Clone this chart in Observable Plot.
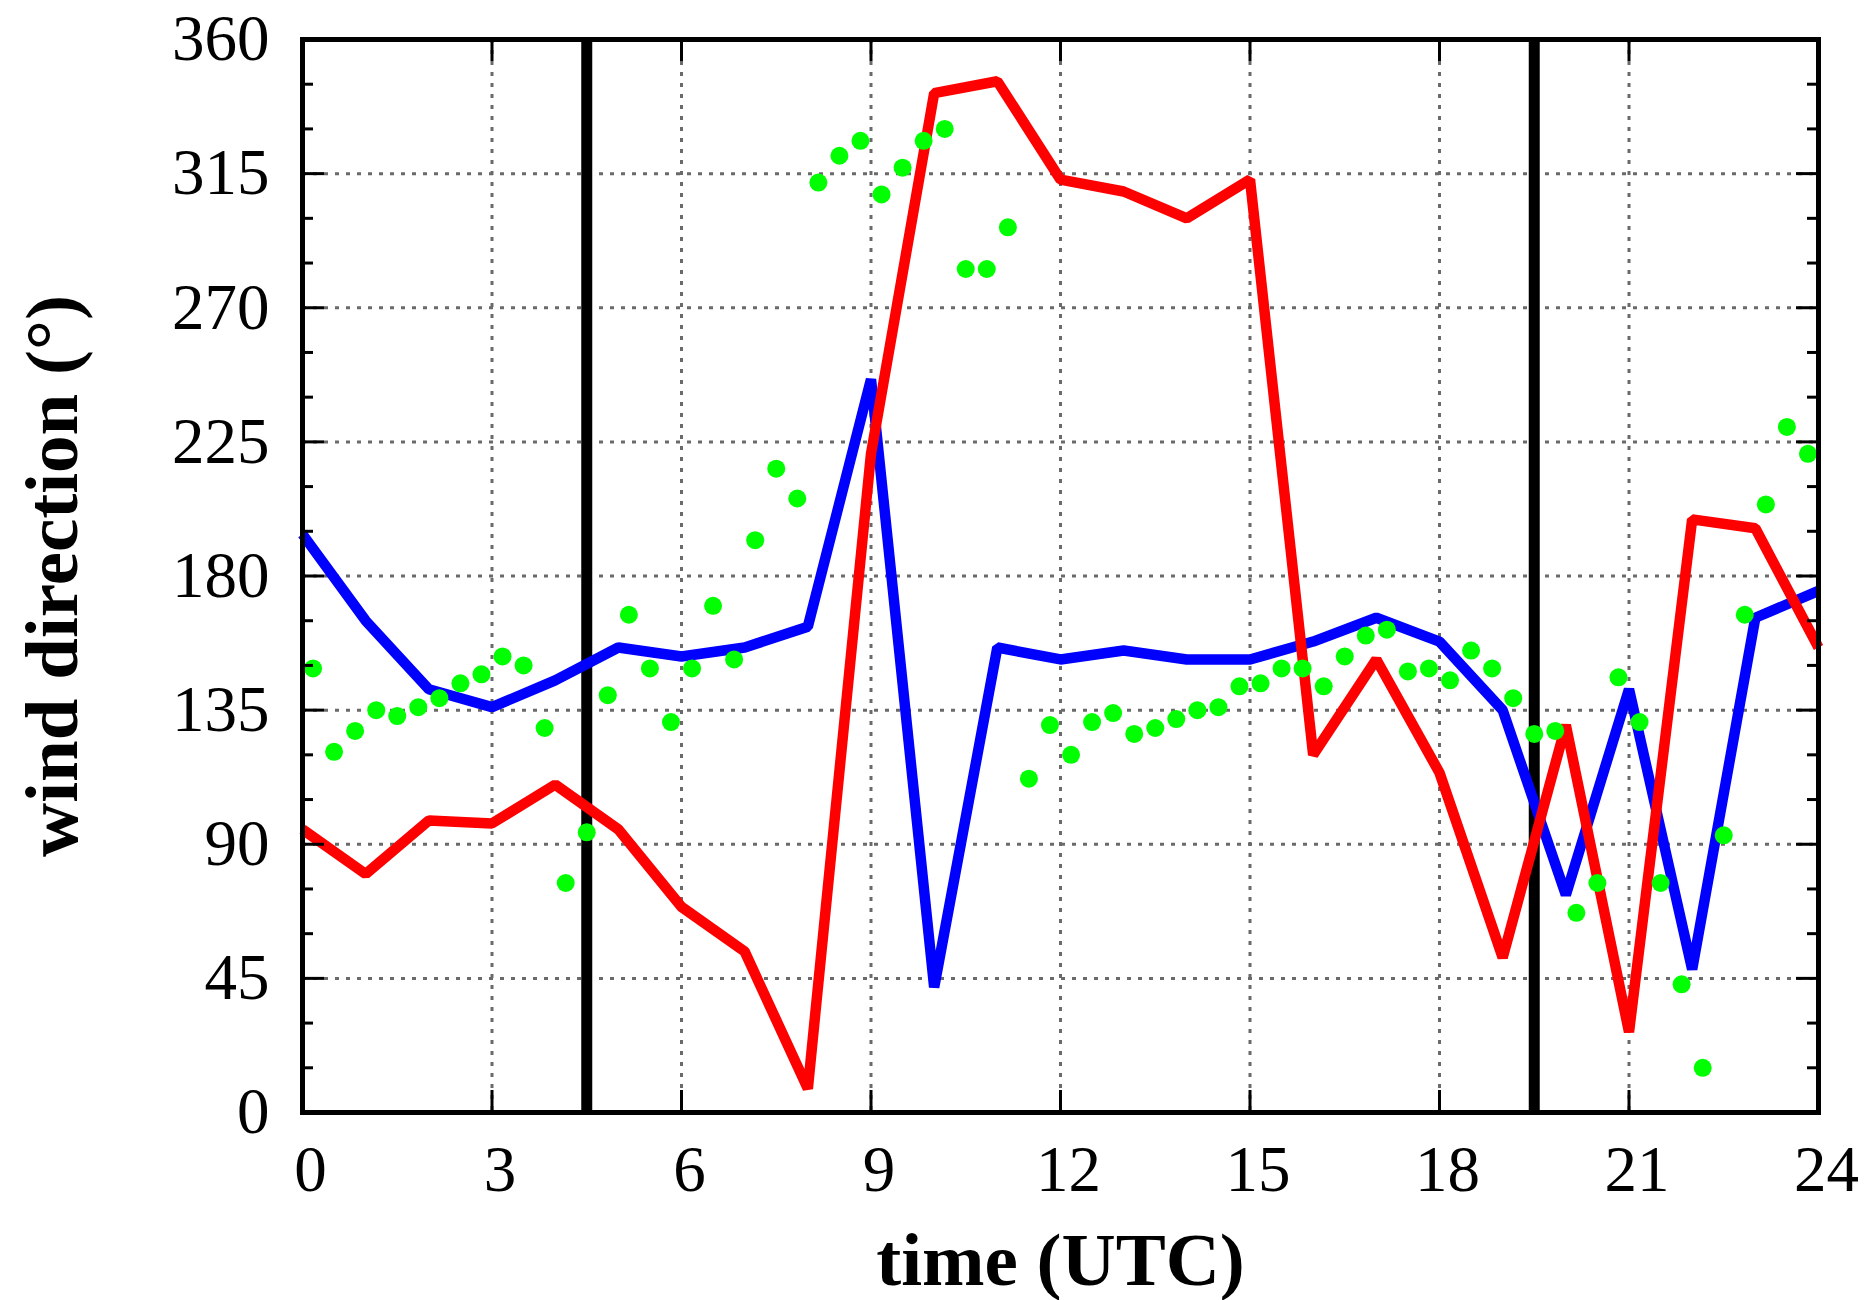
<!DOCTYPE html>
<html>
<head>
<meta charset="utf-8">
<script src="https://cdn.jsdelivr.net/npm/d3@7"></script>
<script src="https://cdn.jsdelivr.net/npm/@observablehq/plot@0.6"></script>
<style>
  html, body { margin: 0; padding: 0; background: #fff; }
  #chart svg { display: block; }
</style>
</head>
<body>
<div id="chart"></div>
<script>
// ---- data ----
const hours = [0,1,2,3,4,5,6,7,8,9,10,11,12,13,14,15,16,17,18,19,20,21,22,23,24];
const blueDir = [194,165,142,136,145,156,153,156,163,246,42,156,152,155,152,152,158,166,158,135,73,142,48,166,175];
const redDir  = [95,80,98,97,110,95,69,54,8,221,342,346,313,309,300,313,120,152,114,52,130,27,199,196,156];

const greenTimes = [0.167,0.5,0.833,1.167,1.5,1.833,2.167,2.5,2.833,3.167,3.5,3.833,
  4.167,4.5,4.833,5.167,5.5,5.833,6.167,6.5,6.833,7.167,7.5,7.833,
  8.167,8.5,8.833,9.167,9.5,9.833,10.167,10.5,10.833,11.167,11.5,11.833,
  12.167,12.5,12.833,13.167,13.5,13.833,14.167,14.5,14.833,15.167,15.5,15.833,
  16.167,16.5,16.833,17.167,17.5,17.833,18.167,18.5,18.833,19.167,19.5,19.833,
  20.167,20.5,20.833,21.167,21.5,21.833,22.167,22.5,22.833,23.167,23.5,23.833];
const greenDir = [149,121,128,135,133,136,139,144,147,153,150,129,
  77,94,140,167,149,131,149,170,152,192,216,206,
  312,321,326,308,317,326,330,283,283,297,112,130,
  120,131,134,127,129,132,135,136,143,144,149,149,
  143,153,160,162,148,149,145,155,149,139,127,128,
  67,77,146,131,77,43,15,93,167,204,230,221];

const separatorTimes = [4.5, 19.5];
const xTickLabels = [0,3,6,9,12,15,18,21,24];
const yTickLabels = [0,45,90,135,180,225,270,315,360];
const xGridTicks = [3,6,9,12,15,18,21];
const yGridTicks = [45,90,135,180,225,270,315];
const yMinorTicks = [15,30,60,75,105,120,150,165,195,210,240,255,285,300,330,345];
const xTitle = "time (UTC)";
const yTitle = "wind direction (°)";

// ---- tables ----
const blue = hours.map((h, i) => ({t: h, v: blueDir[i]}));
const red = hours.map((h, i) => ({t: h, v: redDir[i]}));
const green = greenTimes.map((t, i) => ({t, v: greenDir[i]}));

const W = 1864, H = 1300;
const mL = 302, mR = 46, mT = 39, mB = 188;
const innerW = W - mL - mR, innerH = H - mT - mB;
const serif = "Liberation Serif, Times New Roman, serif";
const gridStyle = {stroke: "#6a6a6a", strokeWidth: 3, strokeDasharray: "4,7", strokeOpacity: 1};

const chart = Plot.plot({
  width: W, height: H,
  marginLeft: mL, marginRight: mR, marginTop: mT, marginBottom: mB,
  style: {fontFamily: serif, fontSize: "65px", background: "#fff", color: "#000"},
  x: {domain: [0, 24], label: null},
  y: {domain: [0, 360], label: null},
  marks: [
    Plot.ruleX(xGridTicks, {x: d => d, ...gridStyle}),
    Plot.ruleY(yGridTicks, {y: d => d, ...gridStyle}),
    Plot.ruleX(separatorTimes, {x: d => d, stroke: "#000", strokeWidth: 11}),
    Plot.line(blue, {x: "t", y: "v", stroke: "#0000ff", strokeWidth: 10.5, strokeLinejoin: "miter", strokeLinecap: "butt"}),
    Plot.line(red, {x: "t", y: "v", stroke: "#ff0000", strokeWidth: 10.5, strokeLinejoin: "miter", strokeLinecap: "butt"}),
    Plot.dot(green, {x: "t", y: "v", r: 9, fill: "#00ff00", stroke: null}),
    // inward tick marks
    Plot.tickY(yGridTicks, {y: d => d, insetRight: innerW - 22, stroke: "#000", strokeWidth: 3}),
    Plot.tickY(yGridTicks, {y: d => d, insetLeft: innerW - 22, stroke: "#000", strokeWidth: 3}),
    Plot.tickY(yMinorTicks, {y: d => d, insetRight: innerW - 11, stroke: "#000", strokeWidth: 3}),
    Plot.tickY(yMinorTicks, {y: d => d, insetLeft: innerW - 11, stroke: "#000", strokeWidth: 3}),
    Plot.tickX(xGridTicks, {x: d => d, insetBottom: innerH - 22, stroke: "#000", strokeWidth: 3}),
    Plot.tickX(xGridTicks, {x: d => d, insetTop: innerH - 22, stroke: "#000", strokeWidth: 3}),
    Plot.frame({stroke: "#000", strokeWidth: 5}),
    Plot.axisX(xTickLabels, {anchor: "bottom", tickSize: 0, tickPadding: 32, dx: 8, fontSize: 65, fontFamily: serif, label: null, tickFormat: d => String(d)}),
    Plot.axisY(yTickLabels, {anchor: "left", tickSize: 0, tickPadding: 33, fontSize: 65, fontFamily: serif, label: null, tickFormat: d => String(d)}),
    Plot.text([xTitle], {text: d => d, frameAnchor: "bottom", dy: 172, lineAnchor: "bottom", textAnchor: "middle", fontSize: 75, fontWeight: "bold", fontFamily: serif}),
    Plot.text([yTitle], {text: d => d, frameAnchor: "left", dx: 76 - mL, rotate: -90, lineAnchor: "bottom", textAnchor: "middle", fontSize: 75, fontWeight: "bold", fontFamily: serif})
  ]
});
document.getElementById("chart").appendChild(chart);
</script>
</body>
</html>
